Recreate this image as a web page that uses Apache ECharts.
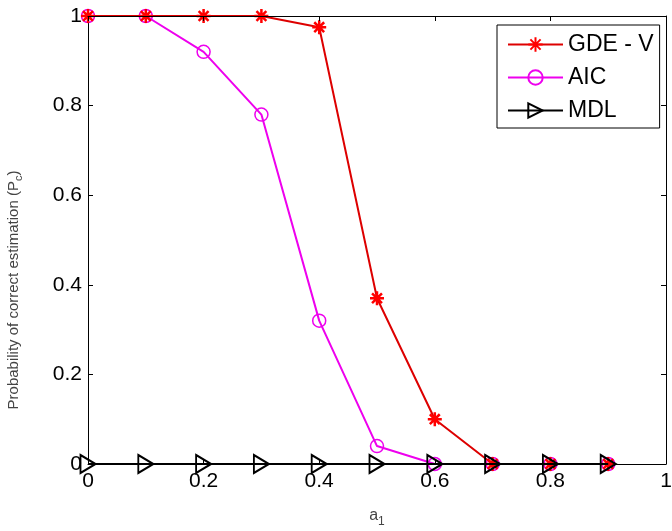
<!DOCTYPE html>
<html>
<head>
<meta charset="utf-8">
<script src="https://cdn.jsdelivr.net/npm/echarts@6/dist/echarts.min.js"></script>
<style>html,body{margin:0;padding:0;background:#fff}#c{width:672px;height:531px}</style>
</head>
<body>
<div id="c"></div>
<script>
var xValues = [0, 0.1, 0.2, 0.3, 0.4, 0.5, 0.6, 0.7, 0.8, 0.9];
var gdeV = [1, 1, 1, 1, 0.975, 0.37, 0.10, 0, 0, 0];
var aic = [1, 1, 0.92, 0.78, 0.32, 0.04, 0, 0, 0, 0];
var mdl = [0, 0, 0, 0, 0, 0, 0, 0, 0, 0];
var seriesNames = ['GDE - V', 'AIC', 'MDL'];

function pairs(ys) { return xValues.map(function (x, i) { return [x, ys[i]]; }); }

var FONT = 'Liberation Sans, Arial, sans-serif';
var STAR = 'path://M0,-10L0,10M-10,0L10,0M-7.07,-7.07L7.07,7.07M-7.07,7.07L7.07,-7.07';
var TRI = 'path://M0,0L15,9L0,18Z';

var chart = echarts.init(document.getElementById('c'), null, {renderer: 'canvas'});
function axisBase() {
  return {
    type: 'value', min: 0, max: 1, interval: 0.2,
    axisLine: {show: true, onZero: false, lineStyle: {color: '#000', width: 1}},
    axisTick: {show: true, inside: true, length: 5, lineStyle: {color: '#000'}},
    splitLine: {show: false}
  };
}
chart.setOption({
  animation: false,
  backgroundColor: '#fff',
  grid: {left: 88, right: 6, top: 16, bottom: 67, outerBoundsMode: 'none', containLabel: false},
  legend: {
    data: seriesNames,
    orient: 'vertical',
    left: 497, top: 25,
    padding: [8, 6, 6, 10],
    itemGap: 10,
    itemWidth: 55, itemHeight: 18,
    borderColor: '#000', borderWidth: 1, borderRadius: 0,
    backgroundColor: '#fff',
    textStyle: {fontFamily: FONT, fontSize: 23, lineHeight: 18, color: '#000'},
    z: 10
  },
  xAxis: [
    Object.assign(axisBase(), {
      position: 'bottom',
      axisLabel: {fontFamily: FONT, fontSize: 21, color: '#000', margin: 7,
        formatter: function (v) { return String(+v.toFixed(1)); }},
      name: '{a|a}{s|1}', nameLocation: 'middle', nameGap: 40,
      nameTextStyle: {rich: {a: {fontFamily: FONT, fontSize: 16, color: '#444'},
        s: {fontFamily: FONT, fontSize: 12, color: '#444', padding: [12, 0, 0, 0]}}}
    }),
    Object.assign(axisBase(), {position: 'top', axisLabel: {show: false}, z: 4})
  ],
  yAxis: [
    Object.assign(axisBase(), {
      position: 'left',
      axisLabel: {fontFamily: FONT, fontSize: 21, color: '#000', margin: 6,
        formatter: function (v) { return String(+v.toFixed(1)); }},
      name: '{a|Probability of correct estimation (P}{s|c}{a|)}',
      nameLocation: 'middle', nameGap: 64, nameRotate: 90,
      nameTextStyle: {padding: [0, 100, 0, 0], rich: {a: {fontFamily: FONT, fontSize: 15, color: '#444'},
        s: {fontFamily: FONT, fontSize: 11, color: '#444', padding: [10, 0, 0, 0]}}}
    }),
    Object.assign(axisBase(), {position: 'right', axisLabel: {show: false}, z: 4})
  ],
  series: [
    {
      name: seriesNames[0], type: 'line', data: pairs(gdeV), z: 3,
      symbol: STAR, symbolSize: 14,
      lineStyle: {color: '#dd0000', width: 2},
      itemStyle: {color: 'rgba(0,0,0,0)', borderColor: '#ff0000', borderWidth: 2.5}
    },
    {
      name: seriesNames[1], type: 'line', data: pairs(aic), z: 2,
      symbol: 'circle', symbolSize: 13,
      lineStyle: {color: '#ee00ee', width: 2},
      itemStyle: {color: 'rgba(0,0,0,0)', borderColor: '#ee00ee', borderWidth: 1.5}
    },
    {
      name: seriesNames[2], type: 'line', data: pairs(mdl), z: 5,
      symbol: TRI, symbolSize: [15, 18],
      lineStyle: {color: '#000', width: 2},
      itemStyle: {color: 'rgba(0,0,0,0)', borderColor: '#000', borderWidth: 2}
    }
  ]
});
</script>
</body>
</html>
